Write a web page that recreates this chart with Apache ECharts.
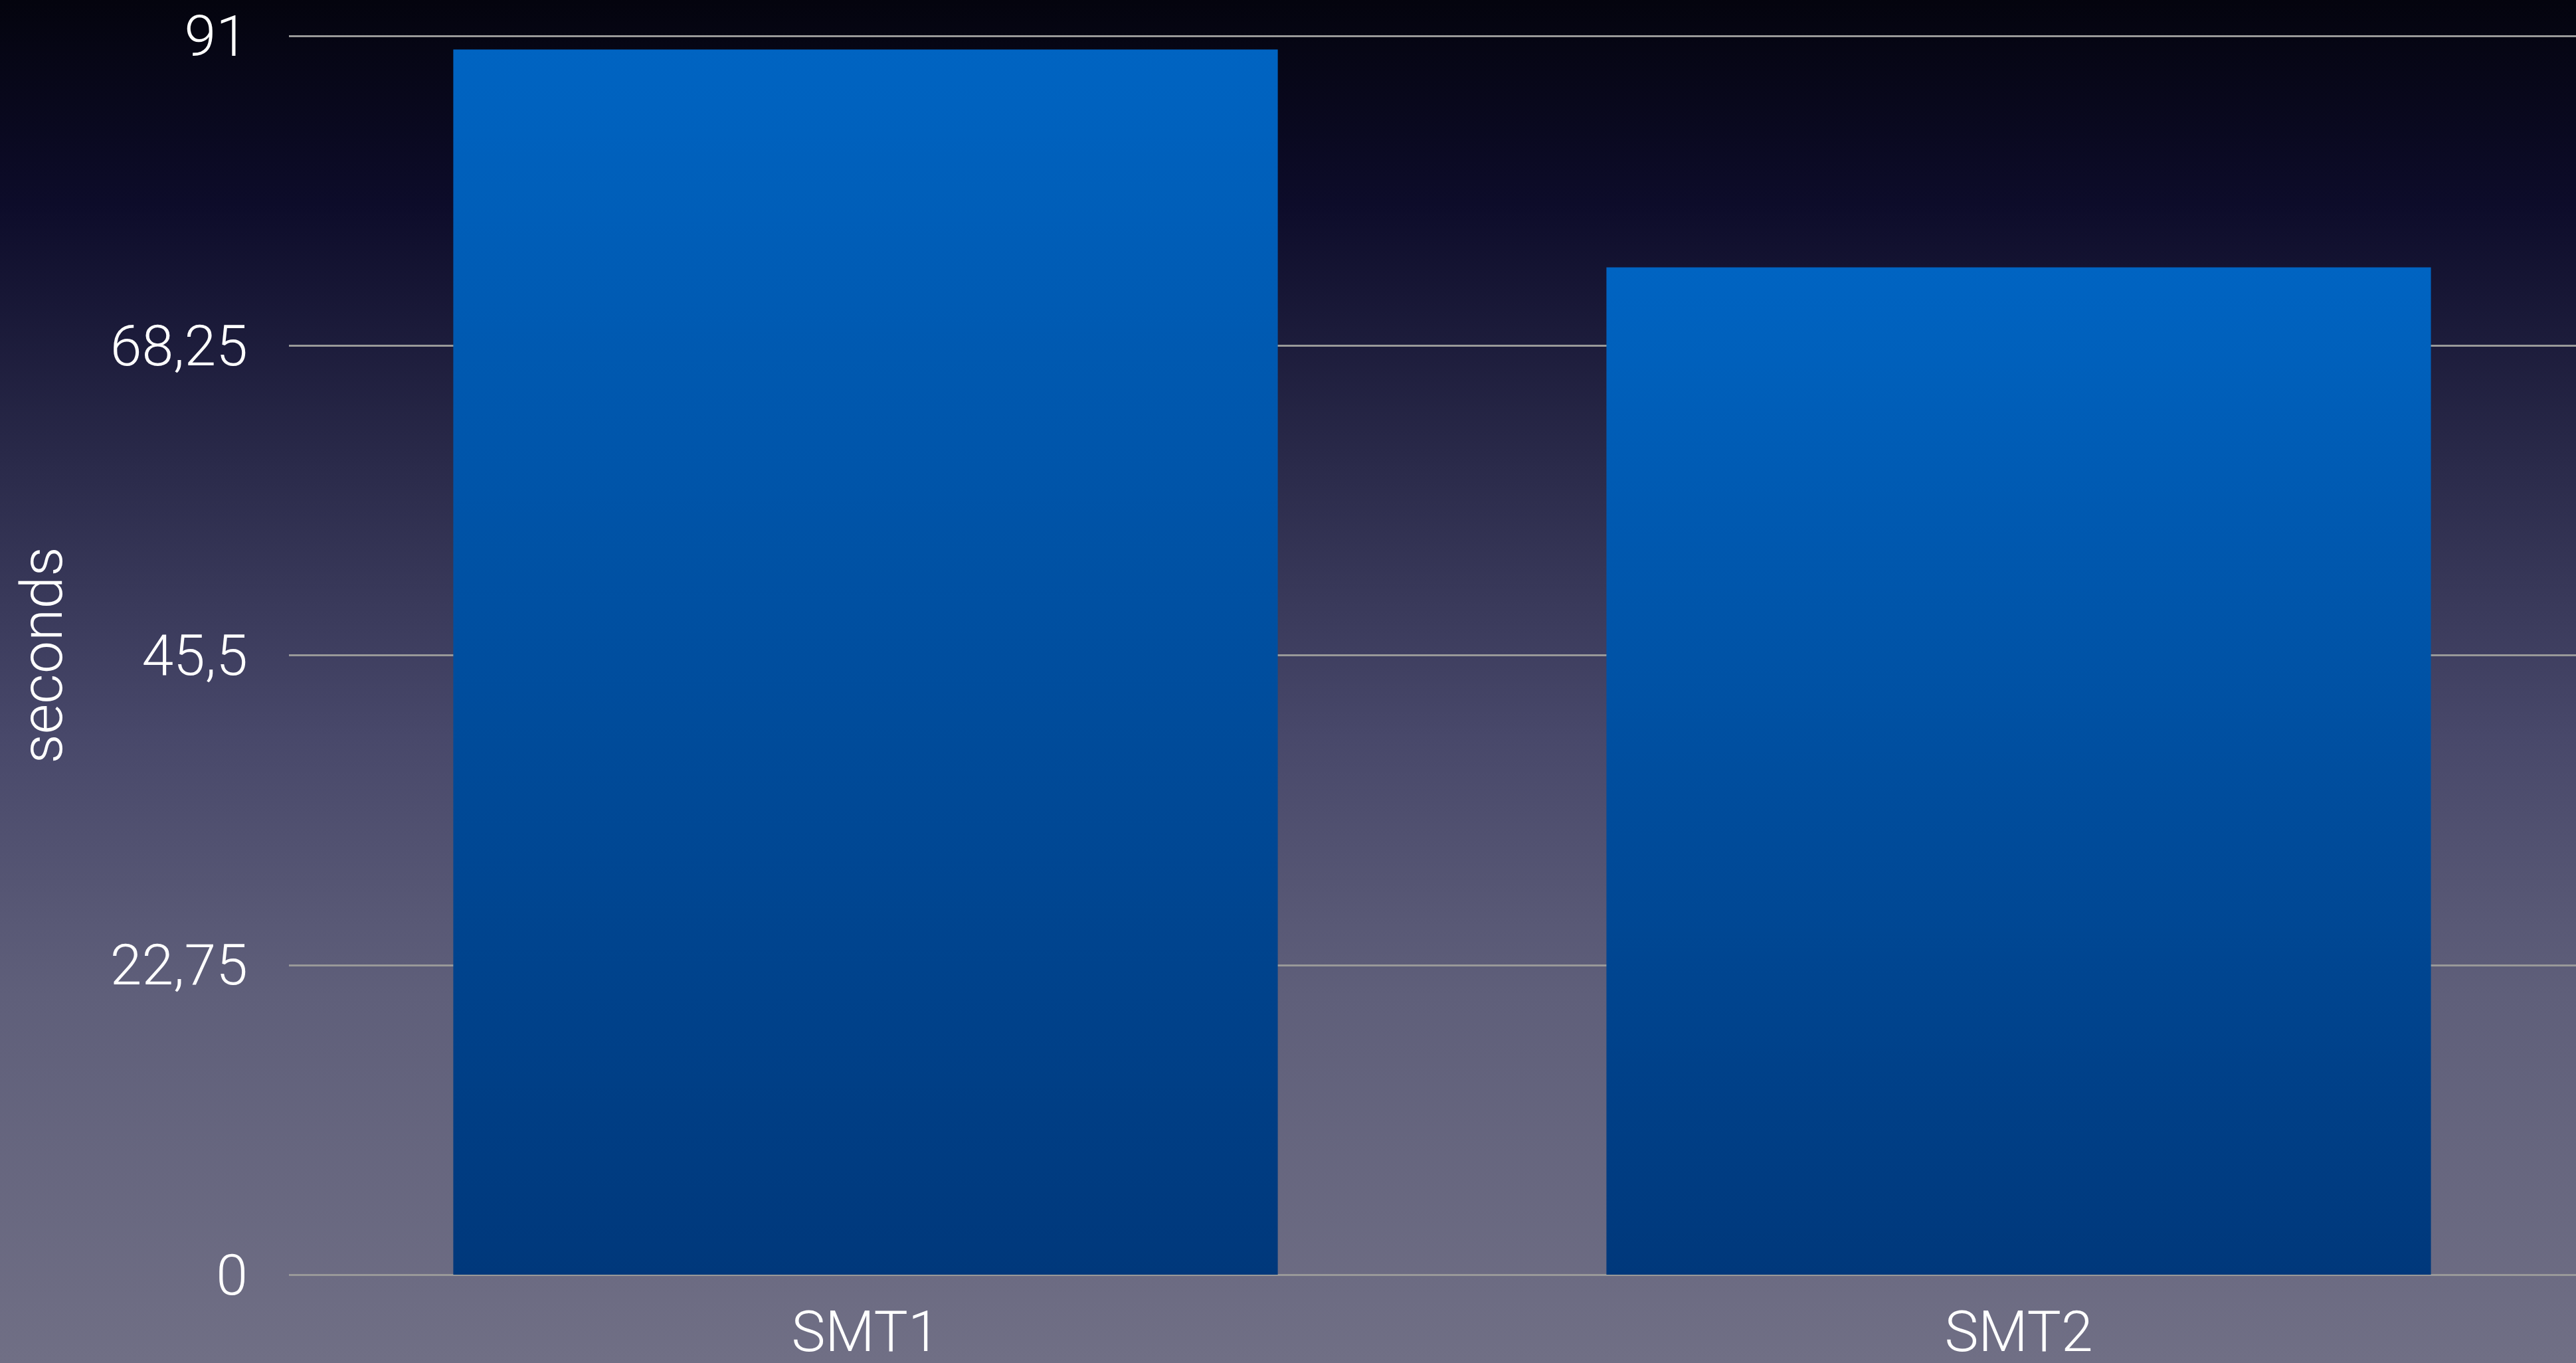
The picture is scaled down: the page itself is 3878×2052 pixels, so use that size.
<!DOCTYPE html>
<html>
<head>
<meta charset="utf-8">
<script src="https://cdn.jsdelivr.net/npm/echarts@6/dist/echarts.min.js"></script>
<style>
  html, body { margin: 0; padding: 0; }
  #chart { width: 3878px; height: 2052px; }
</style>
</head>
<body>
<div id="chart"></div>
<script>
const categories = ['SMT1', 'SMT2']
const seconds = [90, 74]
const yMin = 0
const yMax = 91
const yStep = 22.75

const chart = echarts.init(document.getElementById('chart'))

const fontFamily = 'Roboto, "Liberation Sans", sans-serif'

const option = {
  animation: false,
  backgroundColor: new echarts.graphic.LinearGradient(0, 0, 0, 1, [
    { offset: 0, color: '#04040e' },
    { offset: 0.15, color: '#0d0c2a' },
    { offset: 0.34, color: '#2a2a4a' },
    { offset: 0.54, color: '#48486a' },
    { offset: 0.73, color: '#5f5f7a' },
    { offset: 1, color: '#706f85' }
  ]),
  grid: {
    left: 435,
    top: 54,
    width: 3472,
    bottom: 133,
    outerBoundsMode: 'none'
  },
  xAxis: {
    type: 'category',
    data: categories,
    axisLine: { show: false },
    axisTick: { show: false },
    axisLabel: {
      color: '#ffffff',
      fontFamily,
      fontWeight: 300,
      fontSize: 86,
      margin: 50
    }
  },
  yAxis: {
    type: 'value',
    min: yMin,
    max: yMax,
    interval: yStep,
    name: 'seconds',
    nameLocation: 'middle',
    nameGap: 320,
    nameTextStyle: {
      color: '#ffffff',
      fontFamily,
      fontWeight: 300,
      fontSize: 88
    },
    axisLine: { show: false },
    axisTick: { show: false },
    axisLabel: {
      color: '#ffffff',
      fontFamily,
      fontWeight: 300,
      fontSize: 86,
      margin: 62,
      formatter: (v) => '{v|' + String(v).replace('.', ',') + '}',
      rich: {
        v: {
          color: '#ffffff',
          fontFamily,
          fontWeight: 300,
          fontSize: 86,
          lineHeight: 86,
          padding: [16, 0, 0, 0]
        }
      }
    },
    splitLine: {
      lineStyle: { color: '#999999', width: 3 }
    }
  },
  series: [{
    type: 'bar',
    data: seconds,
    barWidth: '71.5%',
    itemStyle: {
      color: new echarts.graphic.LinearGradient(0, 0, 0, 1, [
        { offset: 0, color: '#0064c2' },
        { offset: 1, color: '#00387b' }
      ])
    }
  }]
}

chart.setOption(option)
</script>
</body>
</html>
